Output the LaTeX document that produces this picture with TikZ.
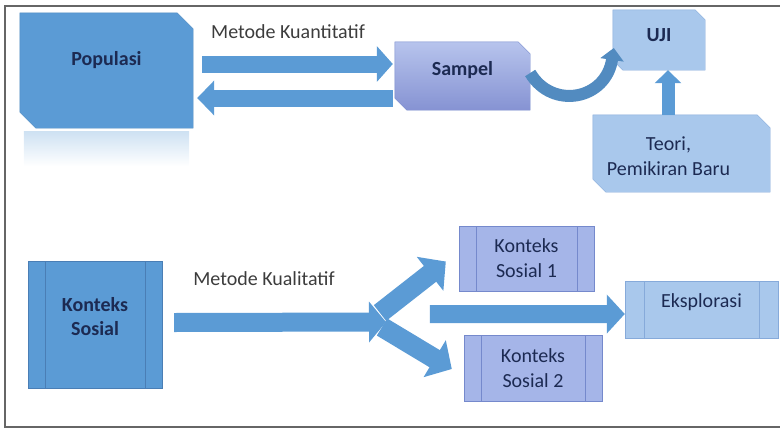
\documentclass[tikz,border=0pt]{standalone}
\usepackage{fontspec}
\setmainfont{Carlito}
\usepackage{tikz}
\usetikzlibrary{calc}
\usetikzlibrary{arrows.meta}
\usetikzlibrary{positioning,backgrounds}
\definecolor{biruTua}{HTML}{5B9BD5}
\definecolor{garisBiru}{HTML}{4A7EB5}
\definecolor{ungu}{HTML}{A5B5E8}
\definecolor{garisUngu}{HTML}{7589CC}
\definecolor{biruMuda}{HTML}{A9C8EC}
\definecolor{garisMuda}{HTML}{86AADA}
\definecolor{teksNavy}{HTML}{1C2A52}
\definecolor{teksAbu}{HTML}{3C3C3C}
% kotak dengan dua sudut terpotong (kanan atas, kiri bawah)
\newcommand{\kotakpotong}[3]{\path[#3] (#1.north west) -- ([xshift=-#2]#1.north east) -- ([yshift=-#2]#1.north east)
  -- (#1.south east) -- ([xshift=#2]#1.south west) -- ([yshift=#2]#1.south west) -- cycle;}

\begin{document}
\begin{tikzpicture}[
x=1pt,y=-1pt,
every node/.style={font=\fontsize{20}{24}\selectfont, text=teksNavy},
BoxPotong/.style={rectangle, inner sep=0pt},
BoxProses/.style 2 args={rectangle, inner sep=0pt,
  path picture={
  \draw[#2,line width=0.8pt] ([xshift=#1]path picture bounding box.north west) -- ([xshift=#1]path picture bounding box.south west);
  \draw[#2,line width=0.8pt] ([xshift=-#1]path picture bounding box.north east) -- ([xshift=-#1]path picture bounding box.south east);}},
TeksTebal/.style={font=\bfseries\fontsize{20}{24}\selectfont, text=teksNavy, align=center},
TeksBiasa/.style={font=\fontsize{20}{25}\selectfont, text=teksNavy, align=center},
PanahBlok/.style n args={3}{draw=biruTua, line width=#1, -{Triangle[width=#2,length=#3]}}
]
\useasboundingbox (0,0) rectangle (780,429);
\draw[gray!80!black, line width=1.3pt] (5,6) rectangle (783,427);

% bagian atas: metode kuantitatif
\node[BoxPotong, minimum width=173, minimum height=115,
  label={[TeksTebal, yshift=10pt]center:Populasi}] (pop) at (106.5,70.5) {};
\node[BoxPotong, minimum width=135, minimum height=68,
  label={[TeksTebal, yshift=6pt]center:Sampel}] (sampel) at (462.5,76) {};
\node[BoxPotong, minimum width=92, minimum height=60,
  label={[TeksTebal, yshift=5pt]center:UJI}] (uji) at (659,40) {};
\node[BoxPotong, minimum width=177, minimum height=77,
  label={[TeksBiasa, xshift=-13pt, yshift=-3pt]center:Teori,\\Pemikiran Baru}] (teori) at (681.5,153.5) {};
\node[text=teksAbu] (kuan) at (288,32) {Metode Kuantitatif};

\begin{scope}[on background layer]
\shade[top color=biruTua!30, bottom color=white] ($(pop.south west)+(4,3)$) rectangle ($(pop.south east)+(-4,38)$);
\kotakpotong{pop}{16pt}{fill=biruTua, draw=biruTua!90!black}
\kotakpotong{sampel}{12pt}{top color=ungu!80, bottom color=ungu!90!blue!90!black, draw=garisUngu}
\kotakpotong{uji}{10pt}{fill=biruMuda, draw=garisMuda}
\kotakpotong{teori}{13pt}{fill=biruMuda, draw=garisMuda}
\end{scope}

\draw[PanahBlok={17pt}{35pt}{16pt}] ($(pop.east)+(9,-6.5)$) -- ($(sampel.west)+(-2,-12)$);
\draw[PanahBlok={17pt}{34pt}{17pt}] ($(sampel.west)+(-2,22)$) -- ($(pop.east)+(4,27.5)$);
\draw[PanahBlok={12pt}{23pt}{12pt}, draw=biruTua!90!black] ($(sampel.east)+(0,-3)$) .. controls (552,110) and (606,100) .. ($(uji.west)+(1,8)$);
\coordinate (ujiin) at ($(uji.south)+(9,0)$);
\draw[PanahBlok={13pt}{26pt}{13pt}] (ujiin |- teori.north) -- (ujiin);

% bagian bawah: metode kualitatif
\node[BoxProses={17pt}{garisBiru}, fill=biruTua, draw=garisBiru, minimum width=134, minimum height=127,
  label={[TeksTebal, yshift=8pt]center:Konteks\\Sosial}] (ks0) at (95,324.5) {};
\node[BoxProses={17pt}{garisUngu}, fill=ungu, draw=garisUngu, minimum width=135, minimum height=65,
  label={[TeksBiasa]center:Konteks\\Sosial 1}] (ks1) at (526.5,258.5) {};
\node[BoxProses={17pt}{garisUngu}, fill=ungu, draw=garisUngu, minimum width=138, minimum height=66,
  label={[TeksBiasa]center:Konteks\\Sosial 2}] (ks2) at (533,368) {};
\node[BoxProses={19pt}{garisMuda}, fill=biruMuda, draw=garisMuda, minimum width=153, minimum height=57,
  label={[TeksBiasa, yshift=7pt]center:Eksplorasi}] (eks) at (701.5,309.5) {};
\node[text=teksAbu] (kual) at (264,279) {Metode Kualitatif};

\coordinate (cabang) at (386,322);
\draw[PanahBlok={19pt}{40pt}{17pt}] ($(ks0.east)+(12,-2)$) -- (cabang);
\draw[PanahBlok={20pt}{42pt}{20pt}] ($(cabang)+(-6,-9)$) -- ($(ks1.west)+(-13,3)$);
\draw[PanahBlok={20pt}{42pt}{20pt}] ($(cabang)+(-4,5)$) -- ($(ks2.west)+(-12,1)$);
\draw[PanahBlok={18pt}{38pt}{18pt}] ($(ks1.south west)+(-29,23)$) -- ($(eks.west)+(0,4.5)$);

\end{tikzpicture}
\end{document}
